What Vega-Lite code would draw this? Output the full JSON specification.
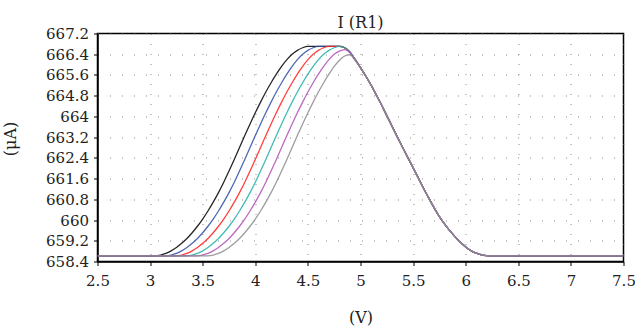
{
  "$schema": "https://vega.github.io/schema/vega-lite/v6.json",
  "width": 526,
  "height": 228,
  "autosize": "none",
  "padding": {"left": 97.5, "top": 33.5, "right": 11.5, "bottom": 69.5},
  "background": "white",
  "title": {"text": "I (R1)", "font": "DejaVu Serif", "fontSize": 16, "fontWeight": "normal", "color": "#222", "offset": 4, "baseline": "alphabetic", "dy": 21, "anchor": "middle", "frame": "group"},
  "config": {
    "view": {"stroke": "#000", "strokeWidth": 1.5},
    "axis": {
      "labelFont": "DejaVu Serif",
      "labelFontSize": 15,
      "labelColor": "#222",
      "titleFont": "DejaVu Serif",
      "titleFontSize": 16,
      "titleFontWeight": "normal",
      "titleColor": "#222",
      "domainColor": "#000",
      "domainWidth": 1.5,
      "tickColor": "#000",
      "tickSize": 4,
      "tickWidth": 1,
      "gridColor": "#8a8a8a",
      "gridWidth": 1
    }
  },
  "data": {
    "values": [
      {"V": 2.5, "s1": 658.62, "s2": 658.62, "s3": 658.62, "s4": 658.62, "s5": 658.62, "s6": 658.62},
      {"V": 3.0, "s1": 658.62, "s2": 658.62, "s3": 658.62, "s4": 658.62, "s5": 658.62, "s6": 658.62},
      {"V": 3.05, "s1": 658.62, "s2": 658.62, "s3": 658.62, "s4": 658.62, "s5": 658.62, "s6": 658.62},
      {"V": 3.1, "s1": 658.65, "s2": 658.62, "s3": 658.62, "s4": 658.62, "s5": 658.62, "s6": 658.62},
      {"V": 3.15, "s1": 658.71, "s2": 658.62, "s3": 658.62, "s4": 658.62, "s5": 658.62, "s6": 658.62},
      {"V": 3.2, "s1": 658.81, "s2": 658.65, "s3": 658.62, "s4": 658.62, "s5": 658.62, "s6": 658.62},
      {"V": 3.25, "s1": 658.94, "s2": 658.71, "s3": 658.62, "s4": 658.62, "s5": 658.62, "s6": 658.62},
      {"V": 3.3, "s1": 659.1, "s2": 658.81, "s3": 658.65, "s4": 658.62, "s5": 658.62, "s6": 658.62},
      {"V": 3.35, "s1": 659.29, "s2": 658.94, "s3": 658.71, "s4": 658.62, "s5": 658.62, "s6": 658.62},
      {"V": 3.4, "s1": 659.51, "s2": 659.1, "s3": 658.81, "s4": 658.65, "s5": 658.62, "s6": 658.62},
      {"V": 3.45, "s1": 659.76, "s2": 659.29, "s3": 658.94, "s4": 658.71, "s5": 658.62, "s6": 658.62},
      {"V": 3.5, "s1": 660.04, "s2": 659.51, "s3": 659.1, "s4": 658.81, "s5": 658.65, "s6": 658.62},
      {"V": 3.55, "s1": 660.35, "s2": 659.76, "s3": 659.29, "s4": 658.94, "s5": 658.71, "s6": 658.62},
      {"V": 3.6, "s1": 660.69, "s2": 660.04, "s3": 659.51, "s4": 659.1, "s5": 658.81, "s6": 658.65},
      {"V": 3.65, "s1": 661.06, "s2": 660.35, "s3": 659.76, "s4": 659.29, "s5": 658.94, "s6": 658.71},
      {"V": 3.7, "s1": 661.46, "s2": 660.69, "s3": 660.04, "s4": 659.51, "s5": 659.1, "s6": 658.81},
      {"V": 3.75, "s1": 661.89, "s2": 661.06, "s3": 660.35, "s4": 659.76, "s5": 659.29, "s6": 658.94},
      {"V": 3.8, "s1": 662.34, "s2": 661.46, "s3": 660.69, "s4": 660.04, "s5": 659.51, "s6": 659.1},
      {"V": 3.85, "s1": 662.8, "s2": 661.89, "s3": 661.06, "s4": 660.35, "s5": 659.76, "s6": 659.29},
      {"V": 3.9, "s1": 663.26, "s2": 662.34, "s3": 661.46, "s4": 660.69, "s5": 660.04, "s6": 659.51},
      {"V": 3.95, "s1": 663.71, "s2": 662.8, "s3": 661.89, "s4": 661.06, "s5": 660.35, "s6": 659.76},
      {"V": 4.0, "s1": 664.14, "s2": 663.26, "s3": 662.34, "s4": 661.46, "s5": 660.69, "s6": 660.04},
      {"V": 4.05, "s1": 664.55, "s2": 663.71, "s3": 662.8, "s4": 661.89, "s5": 661.06, "s6": 660.35},
      {"V": 4.1, "s1": 664.94, "s2": 664.14, "s3": 663.26, "s4": 662.34, "s5": 661.46, "s6": 660.69},
      {"V": 4.15, "s1": 665.3, "s2": 664.55, "s3": 663.71, "s4": 662.8, "s5": 661.89, "s6": 661.06},
      {"V": 4.2, "s1": 665.63, "s2": 664.94, "s3": 664.14, "s4": 663.26, "s5": 662.34, "s6": 661.46},
      {"V": 4.25, "s1": 665.93, "s2": 665.3, "s3": 664.55, "s4": 663.71, "s5": 662.8, "s6": 661.89},
      {"V": 4.3, "s1": 666.19, "s2": 665.63, "s3": 664.94, "s4": 664.14, "s5": 663.26, "s6": 662.34},
      {"V": 4.35, "s1": 666.4, "s2": 665.93, "s3": 665.3, "s4": 664.55, "s5": 663.71, "s6": 662.8},
      {"V": 4.4, "s1": 666.55, "s2": 666.19, "s3": 665.63, "s4": 664.94, "s5": 664.14, "s6": 663.26},
      {"V": 4.45, "s1": 666.65, "s2": 666.4, "s3": 665.93, "s4": 665.3, "s5": 664.55, "s6": 663.71},
      {"V": 4.5, "s1": 666.7, "s2": 666.55, "s3": 666.19, "s4": 665.63, "s5": 664.94, "s6": 664.14},
      {"V": 4.55, "s1": 666.7, "s2": 666.65, "s3": 666.4, "s4": 665.93, "s5": 665.3, "s6": 664.55},
      {"V": 4.6, "s1": 666.7, "s2": 666.7, "s3": 666.55, "s4": 666.19, "s5": 665.63, "s6": 664.94},
      {"V": 4.65, "s1": 666.7, "s2": 666.7, "s3": 666.65, "s4": 666.4, "s5": 665.93, "s6": 665.3},
      {"V": 4.7, "s1": 666.7, "s2": 666.7, "s3": 666.7, "s4": 666.55, "s5": 666.19, "s6": 665.63},
      {"V": 4.75, "s1": 666.7, "s2": 666.7, "s3": 666.7, "s4": 666.65, "s5": 666.4, "s6": 665.93},
      {"V": 4.8, "s1": 666.7, "s2": 666.7, "s3": 666.7, "s4": 666.7, "s5": 666.52, "s6": 666.17},
      {"V": 4.85, "s1": 666.65, "s2": 666.65, "s3": 666.65, "s4": 666.65, "s5": 666.58, "s6": 666.33},
      {"V": 4.9, "s1": 666.48, "s2": 666.48, "s3": 666.48, "s4": 666.48, "s5": 666.46, "s6": 666.38},
      {"V": 4.95, "s1": 666.19, "s2": 666.19, "s3": 666.19, "s4": 666.19, "s5": 666.19, "s6": 666.15},
      {"V": 5.0, "s1": 665.88, "s2": 665.88, "s3": 665.88, "s4": 665.88, "s5": 665.88, "s6": 665.88},
      {"V": 5.05, "s1": 665.56, "s2": 665.56, "s3": 665.56, "s4": 665.56, "s5": 665.56, "s6": 665.56},
      {"V": 5.1, "s1": 665.21, "s2": 665.21, "s3": 665.21, "s4": 665.21, "s5": 665.21, "s6": 665.21},
      {"V": 5.15, "s1": 664.83, "s2": 664.83, "s3": 664.83, "s4": 664.83, "s5": 664.83, "s6": 664.83},
      {"V": 5.2, "s1": 664.44, "s2": 664.44, "s3": 664.44, "s4": 664.44, "s5": 664.44, "s6": 664.44},
      {"V": 5.25, "s1": 664.03, "s2": 664.03, "s3": 664.03, "s4": 664.03, "s5": 664.03, "s6": 664.03},
      {"V": 5.3, "s1": 663.62, "s2": 663.62, "s3": 663.62, "s4": 663.62, "s5": 663.62, "s6": 663.62},
      {"V": 5.35, "s1": 663.21, "s2": 663.21, "s3": 663.21, "s4": 663.21, "s5": 663.21, "s6": 663.21},
      {"V": 5.4, "s1": 662.81, "s2": 662.81, "s3": 662.81, "s4": 662.81, "s5": 662.81, "s6": 662.81},
      {"V": 5.45, "s1": 662.41, "s2": 662.41, "s3": 662.41, "s4": 662.41, "s5": 662.41, "s6": 662.41},
      {"V": 5.5, "s1": 662.02, "s2": 662.02, "s3": 662.02, "s4": 662.02, "s5": 662.02, "s6": 662.02},
      {"V": 5.55, "s1": 661.62, "s2": 661.62, "s3": 661.62, "s4": 661.62, "s5": 661.62, "s6": 661.62},
      {"V": 5.6, "s1": 661.22, "s2": 661.22, "s3": 661.22, "s4": 661.22, "s5": 661.22, "s6": 661.22},
      {"V": 5.65, "s1": 660.84, "s2": 660.84, "s3": 660.84, "s4": 660.84, "s5": 660.84, "s6": 660.84},
      {"V": 5.7, "s1": 660.47, "s2": 660.47, "s3": 660.47, "s4": 660.47, "s5": 660.47, "s6": 660.47},
      {"V": 5.75, "s1": 660.13, "s2": 660.13, "s3": 660.13, "s4": 660.13, "s5": 660.13, "s6": 660.13},
      {"V": 5.8, "s1": 659.84, "s2": 659.84, "s3": 659.84, "s4": 659.84, "s5": 659.84, "s6": 659.84},
      {"V": 5.85, "s1": 659.58, "s2": 659.58, "s3": 659.58, "s4": 659.58, "s5": 659.58, "s6": 659.58},
      {"V": 5.9, "s1": 659.35, "s2": 659.35, "s3": 659.35, "s4": 659.35, "s5": 659.35, "s6": 659.35},
      {"V": 5.95, "s1": 659.14, "s2": 659.14, "s3": 659.14, "s4": 659.14, "s5": 659.14, "s6": 659.14},
      {"V": 6.0, "s1": 658.96, "s2": 658.96, "s3": 658.96, "s4": 658.96, "s5": 658.96, "s6": 658.96},
      {"V": 6.05, "s1": 658.82, "s2": 658.82, "s3": 658.82, "s4": 658.82, "s5": 658.82, "s6": 658.82},
      {"V": 6.1, "s1": 658.72, "s2": 658.72, "s3": 658.72, "s4": 658.72, "s5": 658.72, "s6": 658.72},
      {"V": 6.15, "s1": 658.66, "s2": 658.66, "s3": 658.66, "s4": 658.66, "s5": 658.66, "s6": 658.66},
      {"V": 6.2, "s1": 658.63, "s2": 658.63, "s3": 658.63, "s4": 658.63, "s5": 658.63, "s6": 658.63},
      {"V": 6.25, "s1": 658.62, "s2": 658.62, "s3": 658.62, "s4": 658.62, "s5": 658.62, "s6": 658.62},
      {"V": 7.5, "s1": 658.62, "s2": 658.62, "s3": 658.62, "s4": 658.62, "s5": 658.62, "s6": 658.62}
    ]
  },
  "transform": [{"fold": ["s1", "s2", "s3", "s4", "s5", "s6"], "as": ["series", "I"]}],
  "mark": {"type": "line", "strokeWidth": 1.3, "interpolate": "monotone", "opacity": 0.85, "clip": true},
  "encoding": {
    "x": {
      "field": "V",
      "type": "quantitative",
      "scale": {"domain": [2.5, 7.5], "nice": false, "zero": false},
      "axis": {
        "values": [2.5, 3, 3.5, 4, 4.5, 5, 5.5, 6, 6.5, 7, 7.5],
        "format": ".1~f",
        "title": "(V)",
        "labelPadding": 8,
        "titlePadding": 21,
        "gridDash": [1, 9],
        "labelFlush": false,
        "labelOverlap": false
      }
    },
    "y": {
      "field": "I",
      "type": "quantitative",
      "scale": {"domain": [658.4, 667.2], "nice": false, "zero": false},
      "axis": {
        "values": [658.4, 659.2, 660, 660.8, 661.6, 662.4, 663.2, 664, 664.8, 665.6, 666.4, 667.2],
        "format": ".1~f",
        "title": "(μA)",
        "labelPadding": 5,
        "titlePadding": 27,
        "titleY": 105,
        "gridDash": [1, 11],
        "labelFlush": false,
        "labelOverlap": false
      }
    },
    "color": {
      "field": "series",
      "type": "nominal",
      "scale": {"domain": ["s1", "s2", "s3", "s4", "s5", "s6"], "range": ["#000000", "#2f4fa6", "#ff1e1e", "#1fb0a6", "#b04fb6", "#8c8c8c"]},
      "legend": null
    }
  }
}
